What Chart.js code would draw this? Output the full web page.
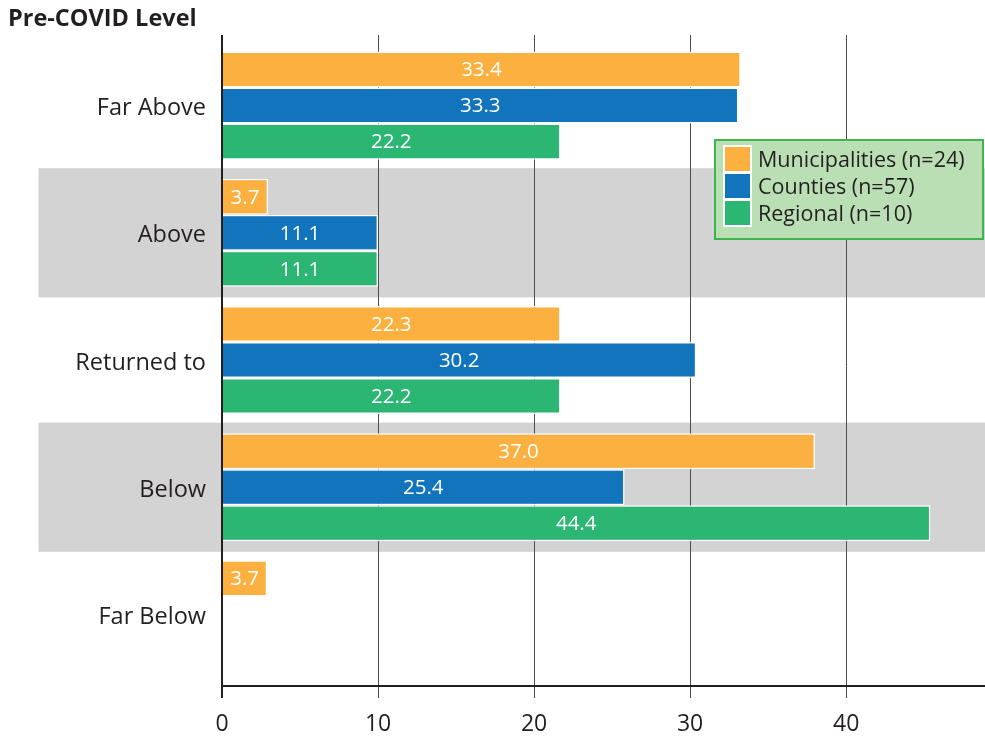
<!DOCTYPE html>
<html><head><meta charset="utf-8">
<script src="https://cdn.jsdelivr.net/npm/chart.js@4.4.1/dist/chart.umd.min.js"></script>
<style>html,body{margin:0;padding:0;background:#fff}#wrap{position:relative;width:985px;height:740px}</style>
</head><body><div id="wrap"><canvas id="c" width="985" height="740"></canvas></div>
<script>
const categories = ['Far Above', 'Above', 'Returned to', 'Below', 'Far Below'];
const seriesNames = ['Municipalities (n=24)', 'Counties (n=57)', 'Regional (n=10)'];
// bar lengths as drawn in the picture
const municipalities = [33.25, 2.95, 21.7, 38.0, 2.9];
const counties = [33.1, 10.0, 30.4, 25.8, null];
const regional = [21.7, 10.0, 21.7, 45.4, null];
// printed value labels
const municipalitiesLabels = ['33.4', '3.7', '22.3', '37.0', '3.7'];
const countiesLabels = ['33.3', '11.1', '30.2', '25.4', ''];
const regionalLabels = ['22.2', '11.1', '22.2', '44.4', ''];
const xTicks = [0, 10, 20, 30, 40];
const xMax = 48.9;
const shadedCategories = ['Above', 'Below'];
const titleText = 'Pre-COVID Level';

const FONT = "'Open Sans', 'Noto Sans', sans-serif";
const TXT = '#231f20';
const colors = ['#fbb040', '#1174bc', '#2bb673'];
const valueLabels = [municipalitiesLabels, countiesLabels, regionalLabels];

const decor = {
  id: 'decor',
  beforeDraw(chart) {
    const ctx = chart.ctx, x = chart.scales.x, y = chart.scales.y, a = chart.chartArea;
    const half = (y.getPixelForValue(1) - y.getPixelForValue(0)) / 2;
    ctx.save();
    ctx.fillStyle = '#d3d3d3';
    shadedCategories.forEach(c => {
      const i = categories.indexOf(c);
      const py = y.getPixelForValue(i);
      ctx.fillRect(38.5, py - half - 1, a.right - 38.5, half * 2 + 2);
    });
    ctx.strokeStyle = '#4d4d4d';
    ctx.lineWidth = 1;
    xTicks.forEach(v => {
      if (v === 0) return;
      const px = Math.round(x.getPixelForValue(v)) + 0.5;
      ctx.beginPath(); ctx.moveTo(px, 35); ctx.lineTo(px, a.bottom + 20); ctx.stroke();
    });
    ctx.restore();
  },
  afterDatasetsDraw(chart) {
    const ctx = chart.ctx, x = chart.scales.x, a = chart.chartArea;
    ctx.save();
    // value labels
    ctx.fillStyle = '#ffffff';
    ctx.font = '20.5px ' + FONT;
    ctx.textAlign = 'center';
    ctx.textBaseline = 'middle';
    chart.data.datasets.forEach((ds, di) => {
      const meta = chart.getDatasetMeta(di);
      meta.data.forEach((el, i) => {
        const t = valueLabels[di][i];
        if (!t || ds.data[i] == null) return;
        ctx.fillText(t, (el.x + el.base) / 2, el.y + 1);
      });
    });
    // axes
    ctx.strokeStyle = TXT;
    ctx.lineWidth = 2;
    const x0 = x.getPixelForValue(0);
    ctx.beginPath(); ctx.moveTo(x0, 35); ctx.lineTo(x0, a.bottom + 20); ctx.stroke();
    ctx.beginPath(); ctx.moveTo(x0, a.bottom + 8); ctx.lineTo(a.right, a.bottom + 8); ctx.stroke();
    ctx.restore();
  },
  afterDraw(chart) {
    const ctx = chart.ctx;
    ctx.save();
    // title
    ctx.fillStyle = TXT;
    ctx.font = 'bold 23.5px ' + FONT;
    ctx.textAlign = 'left';
    ctx.textBaseline = 'middle';
    ctx.fillText(titleText, 8, 19);
    // legend
    const lx = 714, ly = 139, lw = 270, lh = 101;
    ctx.fillStyle = '#bbdfb5';
    ctx.fillRect(lx, ly, lw, lh);
    ctx.strokeStyle = '#3db54a';
    ctx.lineWidth = 2;
    ctx.strokeRect(lx + 1, ly + 1, lw - 2, lh - 2);
    chart.data.datasets.forEach((ds, i) => {
      const cy = 159 + i * 27;
      ctx.fillStyle = '#ffffff';
      ctx.fillRect(723, cy - 14, 29, 28);
      ctx.fillStyle = ds.backgroundColor;
      ctx.fillRect(725, cy - 12, 25, 24);
      ctx.fillStyle = TXT;
      ctx.font = '21.5px ' + FONT;
      ctx.textBaseline = 'middle';
      ctx.fillText(ds.label, 758, cy + 2);
    });
    ctx.restore();
  }
};

new Chart(document.getElementById('c'), {
  type: 'bar',
  data: {
    labels: categories,
    datasets: [
      { label: seriesNames[0], data: municipalities, backgroundColor: colors[0] },
      { label: seriesNames[1], data: counties, backgroundColor: colors[1] },
      { label: seriesNames[2], data: regional, backgroundColor: colors[2] }
    ]
  },
  options: {
    indexAxis: 'y',
    responsive: false,
    animation: false,
    devicePixelRatio: 1,
    layout: { padding: { top: 42, left: 0, right: 0, bottom: 0 } },
    datasets: { bar: { categoryPercentage: 0.85, barPercentage: 1.0, borderColor: '#ffffff', borderWidth: 1.5, borderSkipped: 'start' } },
    plugins: { legend: { display: false }, tooltip: { enabled: false }, title: { display: false } },
    scales: {
      x: {
        type: 'linear', min: 0, max: xMax,
        afterBuildTicks: s => { s.ticks = xTicks.map(v => ({ value: v })); },
        afterFit: s => { s.height = 62; },
        grid: { display: false, drawTicks: false },
        border: { display: false },
        ticks: { color: TXT, font: { family: FONT, size: 23 }, padding: 33, maxRotation: 0 }
      },
      y: {
        type: 'category',
        afterFit: s => { s.width = 222; },
        grid: { display: false, drawTicks: false },
        border: { display: false },
        ticks: { color: TXT, font: { family: FONT, size: 23.5 }, padding: 16, labelOffset: 3 }
      }
    }
  },
  plugins: [decor]
});
</script></body></html>
